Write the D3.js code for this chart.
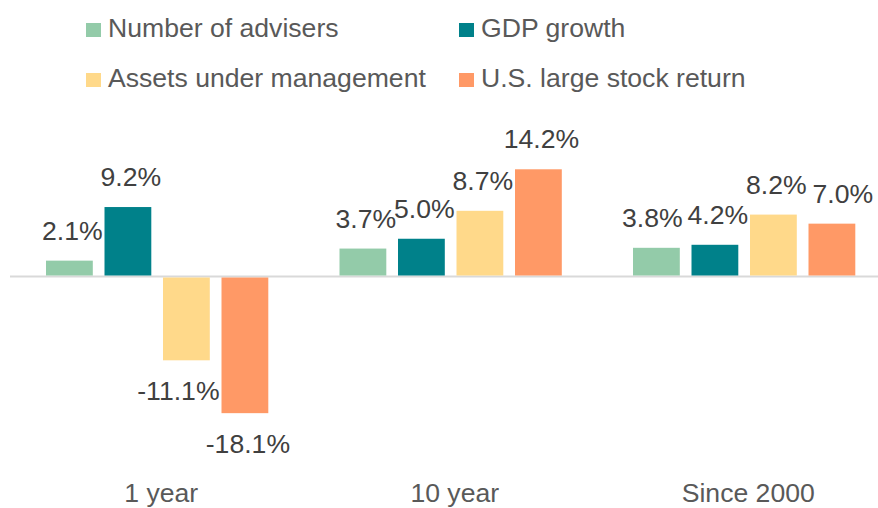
<!DOCTYPE html>
<html lang="en">
<head>
<meta charset="utf-8">
<title>Growth comparison</title>
<script src="https://cdnjs.cloudflare.com/ajax/libs/d3/7.8.5/d3.min.js"></script>
<style>
  html, body { margin: 0; padding: 0; background: #fff; }
  svg text { font-family: Arial, "Liberation Sans", sans-serif; }
</style>
</head>
<body>
<div id="chart"></div>
<script>
// chart data
const categories = ["1 year", "10 year", "Since 2000"];
const seriesNames = ["Number of advisers", "GDP growth", "Assets under management", "U.S. large stock return"];
const advisers = [2.1, 3.7, 3.8];
const gdp = [9.2, 5.0, 4.2];
const assets = [-11.1, 8.7, 8.2];
const stocks = [-18.1, 14.2, 7.0];
const colors = ["#93cba9", "#00818a", "#ffd98a", "#ff9966"];

const seriesValues = [advisers, gdp, assets, stocks];

const w = 878, h = 508;
const fs = 26.6;
const svg = d3.select("#chart").append("svg")
    .attr("width", w)
    .attr("height", h);

const x0 = d3.scaleBand()
    .domain(categories)
    .range([10, 890.5]);

const x1 = d3.scaleBand()
    .domain(seriesNames)
    .range([36, 258.3])
    .paddingInner(0.2);

const y = d3.scaleLinear()
    .domain([-20, 16])
    .range([427.5, 155.7]);

// label nudges to keep them clear of neighbouring bars
const nudge = { "1 year|2": -11, "Since 2000|0": -7, "Since 2000|3": 8 };

const rows = [];
categories.forEach((c, ci) => {
  seriesNames.forEach((s, si) => {
    rows.push({ cat: c, si: si, series: s, value: seriesValues[si][ci] });
  });
});

// zero line
svg.append("line")
    .attr("x1", 10)
    .attr("x2", w)
    .attr("y1", y(0))
    .attr("y2", y(0))
    .attr("stroke", "#d9d9d9")
    .attr("stroke-width", 2);

const groups = svg.selectAll("g.grp")
    .data(rows)
    .enter()
    .append("g")
    .attr("transform", d => "translate(" + x0(d.cat) + ",0)");

groups.append("rect")
    .attr("x", d => x1(d.series))
    .attr("width", x1.bandwidth())
    .attr("y", d => d.value >= 0 ? y(d.value) : y(0) + 1)
    .attr("height", d => d.value >= 0 ? y(0) - 1 - y(d.value) : y(d.value) - y(0) - 1)
    .attr("fill", d => colors[d.si]);

groups.append("text")
    .attr("x", d => x1(d.series) + x1.bandwidth() / 2 + 3 + (nudge[d.cat + "|" + d.si] || 0))
    .attr("y", d => d.value >= 0 ? y(d.value) - 21 : y(d.value) + 40)
    .attr("text-anchor", "middle")
    .attr("font-size", fs)
    .attr("fill", "#404040")
    .text(d => d.value.toFixed(1) + "%");

// category labels
svg.selectAll("text.cat")
    .data(categories)
    .enter()
    .append("text")
    .attr("class", "cat")
    .attr("x", d => x0(d) + x0.bandwidth() / 2 + 4.5)
    .attr("y", 502)
    .attr("text-anchor", "middle")
    .attr("font-size", fs)
    .attr("fill", "#595959")
    .text(d => d);

// legend, two columns by two rows
const legendX = [86, 459];
const legendY = [37, 87];
const leg = svg.selectAll("g.legend")
    .data(seriesNames)
    .enter()
    .append("g")
    .attr("class", "legend")
    .attr("transform", (d, i) => "translate(" + legendX[i % 2] + "," + legendY[Math.floor(i / 2)] + ")");

leg.append("rect")
    .attr("x", 0)
    .attr("y", -14)
    .attr("width", 15)
    .attr("height", 14)
    .attr("fill", (d, i) => colors[i]);

leg.append("text")
    .attr("x", 22)
    .attr("y", 0)
    .attr("font-size", fs)
    .attr("fill", "#595959")
    .text(d => d);
</script>
</body>
</html>
